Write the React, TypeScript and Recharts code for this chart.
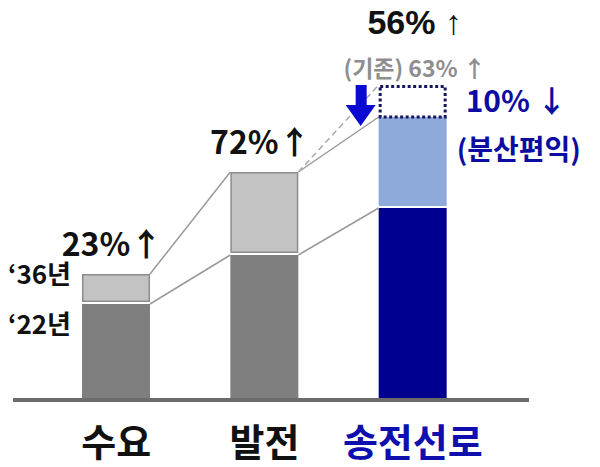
import { BarChart, Bar, XAxis, YAxis } from "recharts";

const categories = ["수요", "발전", "송전선로"];
const base2022 = [96, 145, 192];
const growth2036 = [30, 83, 91];
const priorPlan = [0, 0, 32];
const growthLabels = ["23%↑", "72%↑", "56%  ↑"];
const yearLabels = ["‘36년", "‘22년"];
const priorLabel = "(기존) 63% ↑";
const cutLabel = "10% ↓";
const cutNote = "(분산편익)";

const data = categories.map((name, i) => ({
  name,
  base: base2022[i],
  growth: growth2036[i],
  prior: priorPlan[i],
}));

const W = 600;
const H = 467;
const margin = { top: 0, right: 71, bottom: 0, left: 13 };
const pad = { left: 29, right: 42 };
const STEP = (W - margin.left - margin.right - pad.left - pad.right) / categories.length;

const font = "'Noto Sans CJK KR', 'Noto Sans', sans-serif";
const topFont = "'Liberation Sans', 'Noto Sans CJK KR', sans-serif";
const baseFill = ["#7f7f7f", "#7f7f7f", "#00008e"];
const growthFill = ["#c3c3c3", "#c3c3c3", "#8eaadb"];
const tickFill = ["#111111", "#111111", "#0f0fae"];
const connector = "#9a9a9a";

function BaseShape(props: any) {
  const { x, y, width, height, index } = props;
  return (
    <g>
      <rect x={x} y={y} width={width} height={height} fill={baseFill[index]} />
      {index === 0 && (
        <text x={x - 11} y={y + 30} textAnchor="end" fontFamily={font} fontSize={26} fontWeight={700} fill="#111">
          {yearLabels[1]}
        </text>
      )}
    </g>
  );
}

function GrowthShape(props: any) {
  const { x, y, width, height, index } = props;
  const d = data[index];
  const ppu = height / d.growth;
  const floor = y + height + d.base * ppu;
  const prev = index > 0 ? data[index - 1] : null;
  const px = x - STEP + width;
  const gray = index < 2;
  return (
    <g>
      {prev && (
        <>
          <line x1={px} y1={floor - prev.base * ppu} x2={x} y2={y + height} stroke={connector} strokeWidth={1.5} />
          <line x1={px} y1={floor - (prev.base + prev.growth) * ppu} x2={x} y2={y} stroke={connector} strokeWidth={1.5} />
        </>
      )}
      <rect
        x={gray ? x + 0.75 : x}
        y={gray ? y + 0.75 : y}
        width={gray ? width - 1.5 : width}
        height={gray ? height - 3.5 : height - 2}
        fill={growthFill[index]}
        stroke={gray ? "#8c8c8c" : "none"}
        strokeWidth={1.5}
      />
      {index === 0 && (
        <text x={x - 11} y={y + 10} textAnchor="end" fontFamily={font} fontSize={26} fontWeight={700} fill="#111">
          {yearLabels[0]}
        </text>
      )}
      {index < 2 && (
        <text x={x + width / 2 - 4} y={y - 18} textAnchor="middle" fontFamily={font} fontSize={32} fontWeight={700} fill="#111">
          {growthLabels[index]}
        </text>
      )}
    </g>
  );
}

function PriorShape(props: any) {
  const { x, y, width, height, index } = props;
  if (!height || index !== 2) return <g />;
  const d = data[index];
  const prev = data[index - 1];
  const ppu = height / d.prior;
  const floor = y + height + (d.base + d.growth) * ppu;
  const px = x - STEP + width;
  const prevTop = floor - (prev.base + prev.growth) * ppu;
  const cx = x + width / 2;
  return (
    <g>
      <line x1={px} y1={prevTop} x2={x} y2={y} stroke="#a8a8a8" strokeWidth={1.5} strokeDasharray="6 4" />
      <rect x={x + 1.5} y={y + 1.5} width={width - 3} height={height - 1.5} fill="#fff" stroke="#15155e" strokeWidth={3} strokeDasharray="3 2.5" />
      <polygon
        points={`${x - 23},${y} ${x - 12},${y} ${x - 12},${y + 20} ${x - 3},${y + 20} ${x - 18},${y + 41} ${x - 33},${y + 20} ${x - 23},${y + 20}`}
        fill="#0a0ad2"
      />
      <text x={cx + 2} y={y - 51} textAnchor="middle" fontFamily={topFont} fontSize={34} fontWeight={700} fill="#111">
        {growthLabels[index]}
      </text>
      <text x={cx + 2} y={y - 8} textAnchor="middle" fontFamily={font} fontSize={23} fontWeight={700} fill="#8e8e8e">
        {priorLabel}
      </text>
      <text x={x + width + 19} y={y + 27} fontFamily={font} fontSize={30} fontWeight={700} fill="#0c0ca2">
        {cutLabel}
      </text>
      <text x={x + width + 10} y={y + 75} fontFamily={font} fontSize={28} fontWeight={700} fill="#0c0ca2">
        {cutNote}
      </text>
    </g>
  );
}

function CategoryTick(props: any) {
  const { x, y, payload, index } = props;
  return (
    <text x={x} y={y} dy={56} textAnchor="middle" fontFamily={font} fontSize={38} fontWeight={700} fill={tickFill[index]}>
      {payload.value}
    </text>
  );
}

export default function App() {
  return (
    <div style={{ width: W, height: H, background: "#fff" }}>
      <style>{"body{margin:0}"}</style>
      <BarChart width={W} height={H} data={data} margin={margin} barSize={68}>
        <XAxis
          dataKey="name"
          height={67}
          padding={pad}
          tickLine={false}
          tickSize={0}
          tickMargin={0}
          axisLine={{ stroke: "#6b6b6b", strokeWidth: 4 }}
          tick={<CategoryTick />}
          interval={0}
        />
        <YAxis hide domain={[0, 400]} />
        <Bar dataKey="base" stackId="a" shape={<BaseShape />} isAnimationActive={false} />
        <Bar dataKey="growth" stackId="a" shape={<GrowthShape />} isAnimationActive={false} />
        <Bar dataKey="prior" stackId="a" shape={<PriorShape />} isAnimationActive={false} />
      </BarChart>
    </div>
  );
}
